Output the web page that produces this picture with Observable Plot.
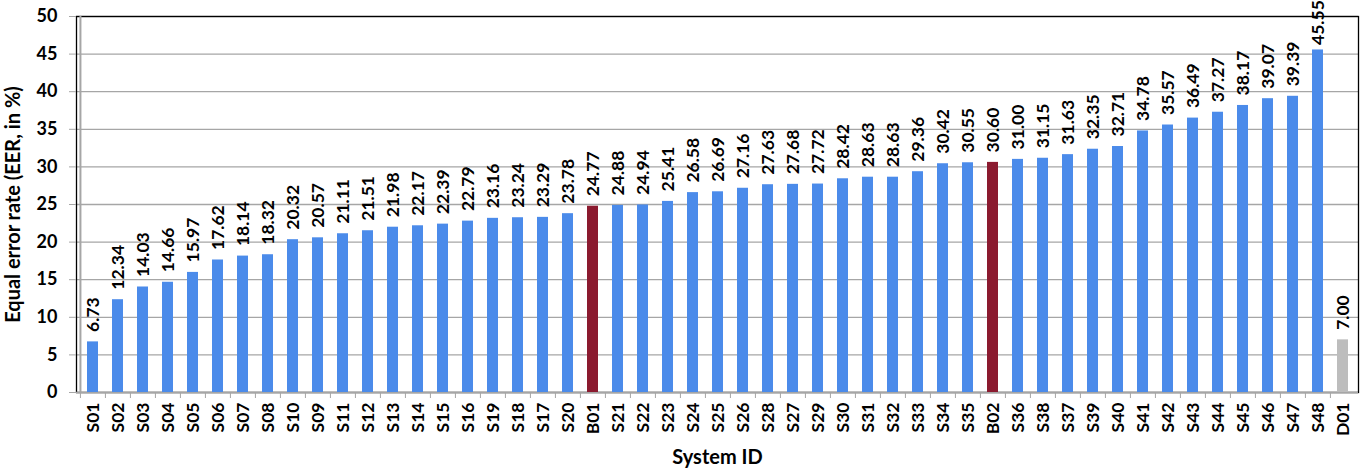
<!DOCTYPE html>
<html>
<head>
<meta charset="utf-8">
<script src="https://cdn.jsdelivr.net/npm/d3@7"></script>
<script src="https://cdn.jsdelivr.net/npm/@observablehq/plot@0.6"></script>
<style>
  html, body { margin: 0; padding: 0; background: #fff; }
  #chart svg { display: block; font-family: Lato, "Open Sans", sans-serif; }
</style>
</head>
<body>
<div id="chart"></div>
<script>
const systems = ["S01","S02","S03","S04","S05","S06","S07","S08","S10","S09","S11","S12","S13","S14","S15","S16","S19","S18","S17","S20","B01","S21","S22","S23","S24","S25","S26","S28","S27","S29","S30","S31","S32","S33","S34","S35","B02","S36","S38","S37","S39","S40","S41","S42","S43","S44","S45","S46","S47","S48","D01"];
const eer = [6.73,12.34,14.03,14.66,15.97,17.62,18.14,18.32,20.32,20.57,21.11,21.51,21.98,22.17,22.39,22.79,23.16,23.24,23.29,23.78,24.77,24.88,24.94,25.41,26.58,26.69,27.16,27.63,27.68,27.72,28.42,28.63,28.63,29.36,30.42,30.55,30.60,31.00,31.15,31.63,32.35,32.71,34.78,35.57,36.49,37.27,38.17,39.07,39.39,45.55,7.00];
const yTicks = [0,5,10,15,20,25,30,35,40,45,50];
const kinds = ["S","B","D"];
const kindColors = ["#4b8bea","#8b1a2f","#bdbdbd"];
const yLabel = "Equal error rate (EER, in %)";
const xLabel = "System ID";

const data = systems.map((id, i) => ({id, eer: eer[i], kind: id[0]}));

const W = 1363, H = 471, mL = 76, mR = 5, mT = 16, mB = 79;
const step = (W - mL - mR) / systems.length;
const grid = "#a6a6a6";
const font = {fontFamily: "Lato, sans-serif", fontWeight: "bold"};
const topLimit = 44; // labels above this value are squeezed closer to their bar
const labelOpts = {
  x: "id", y: "eer", text: d => d.eer.toFixed(2),
  rotate: -90, textAnchor: "start",
  fontSize: 17.5, ...font, fill: "#000"
};

const chart = Plot.plot({
  width: W, height: H,
  marginLeft: mL, marginRight: mR, marginTop: mT, marginBottom: mB,
  style: {fontFamily: "Lato, sans-serif", background: "#fff", overflow: "visible"},
  x: {domain: systems, paddingInner: 0.58, paddingOuter: 0.29, align: 0.5},
  y: {domain: [0, 50]},
  color: {domain: kinds, range: kindColors},
  marks: [
    Plot.gridY(yTicks, {stroke: grid, strokeOpacity: 1, strokeWidth: 1.3}),
    Plot.frame({stroke: "#000", strokeWidth: 1.3}),
    Plot.ruleY([0], {stroke: grid, strokeWidth: 1.5}),
    Plot.ruleX([systems[0]], {dx: -step / 2, stroke: grid, strokeWidth: 2}),
    Plot.barY(data, {x: "id", y: "eer", fill: "kind"}),
    Plot.text(data.filter(d => d.eer <= topLimit), {...labelOpts, dy: -10}),
    Plot.text(data.filter(d => d.eer > topLimit), {...labelOpts, dy: -5}),
    Plot.axisY(yTicks, {
      tickSize: 7, tickPadding: 12, stroke: grid, fontSize: 18, ...font, fill: "#000",
      label: null
    }),
    Plot.axisX({
      tickSize: 6, tickFormat: () => "", dx: -step / 2, stroke: grid, label: null
    }),
    Plot.axisX({
      tickSize: 0, tickRotate: -90, tickPadding: 10, fontSize: 17.5, ...font, fill: "#000",
      label: null
    }),
    Plot.text([yLabel], {
      frameAnchor: "left", textAnchor: "middle", rotate: -90, dx: -63, text: d => d,
      fontSize: 20, ...font, fill: "#000"
    }),
    Plot.text([xLabel], {
      frameAnchor: "bottom", textAnchor: "middle", dy: 71, text: d => d,
      fontSize: 20, ...font, fill: "#000"
    })
  ]
});

document.getElementById("chart").appendChild(chart);
</script>
</body>
</html>
